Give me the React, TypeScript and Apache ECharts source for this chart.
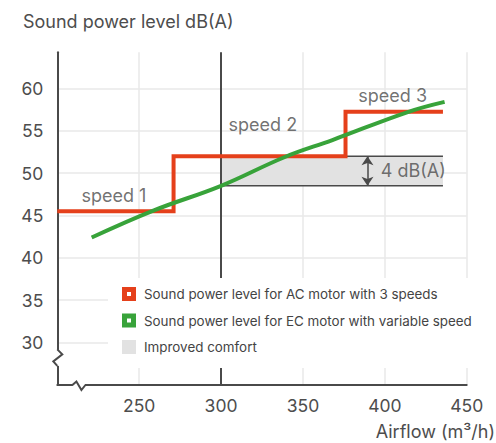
import React, { useEffect, useRef } from 'react';
import * as echarts from 'echarts';

// ---- data ----
const xTickLabels = [250, 300, 350, 400, 450];
const yTickLabels = [30, 35, 40, 45, 50, 55, 60];
const seriesNames = [
  'Sound power level for AC motor with 3 speeds',
  'Sound power level for EC motor with variable speed',
  'Improved comfort',
];
// AC motor: three fixed speeds (step line)
const acMotor = [
  [200, 45.5],
  [271, 45.5],
  [271, 52.0],
  [376, 52.0],
  [376, 57.25],
  [435.5, 57.25],
];
// EC motor: continuous speed
const ecMotor = [
  [221, 42.4],
  [259, 45.6],
  [300, 48.5],
  [339, 51.9],
  [368, 53.9],
  [414, 57.2],
  [436.5, 58.4],
];
// Improved comfort band
const comfortTop = [
  [300, 52.0],
  [435.5, 52.0],
];
const comfortBase = [
  [300, 48.5],
  [435.5, 48.5],
];
const dividerX = 300;
const gapArrow = [
  [389.4, 48.5],
  [389.4, 52.0],
];
const annotations = [
  { name: 'speed 1', value: [234.6, 47.3] },
  { name: 'speed 2', value: [325.5, 55.7] },
  { name: 'speed 3', value: [404.8, 59.2] },
  { name: '4 dB(A)', value: [397.5, 50.35] },
];
const axisBreakAt = { x: 213.2, y: 28.2 };
const xRange = [200, 450];
const yRange = [25, 64.25];

const RED = '#e5401b';
const GREEN = '#38a33a';
const BAND = '#e2e2e2';
const DARK = '#4a4a4a';
const TEXT = '#4d4d4d';
const HOLE_ICON = 'path://M0,0H14V14H0Z M5,5V9H9V5Z';

export default function App() {
  const ref = useRef<HTMLDivElement>(null);

  useEffect(() => {
    if (!ref.current) return;
    const chart = echarts.init(ref.current, undefined, { renderer: 'svg' });
    const font = 'Inter, Roboto, "Noto Sans", sans-serif';
    chart.setOption({
      animation: false,
      textStyle: { fontFamily: font },
      title: [
        {
          text: 'Sound power level dB(A)',
          left: 23,
          top: 12,
          padding: 0,
          textStyle: { fontSize: 18, fontWeight: 'normal', color: TEXT, fontFamily: font },
        },
        {
          text: 'Airflow (m³/h)',
          right: 1,
          top: 422,
          padding: 0,
          textStyle: { fontSize: 18, fontWeight: 'normal', color: TEXT, fontFamily: font },
        },
      ],
      grid: { left: 57.3, right: 29.3, top: 52.3, bottom: 58 },
      xAxis: {
        type: 'value',
        min: xRange[0],
        max: xRange[1],
        interval: 50,
        axisLine: { show: true, onZero: false, lineStyle: { color: DARK, width: 2 } },
        axisTick: { show: false },
        axisLabel: {
          fontSize: 17.5,
          color: TEXT,
          margin: 11,
          formatter: (v: number) => (xTickLabels.includes(v) ? String(v) : ''),
        },
        splitLine: { show: true, lineStyle: { color: '#e8e8e8', width: 1.5 } },
      },
      yAxis: {
        type: 'value',
        min: yRange[0],
        max: yRange[1],
        interval: 5,
        axisLine: { show: true, onZero: false, lineStyle: { color: DARK, width: 2 } },
        axisTick: { show: false },
        axisLabel: {
          fontSize: 17.5,
          color: TEXT,
          margin: 14,
          formatter: (v: number) => (yTickLabels.includes(v) ? String(v) : ''),
        },
        splitLine: { show: true, showMaxLine: false, lineStyle: { color: '#e8e8e8', width: 1.5 } },
      },
      legend: {
        orient: 'vertical',
        left: 108,
        top: 278,
        z: 20,
        padding: [9, 14, 14, 14],
        itemGap: 12.5,
        itemWidth: 14,
        itemHeight: 14,
        backgroundColor: '#ffffff',
        selectedMode: false,
        itemStyle: { borderWidth: 0 },
        textStyle: { fontSize: 13.4, color: '#444', padding: [0, 0, 0, 3], fontFamily: font },
        data: [
          { name: seriesNames[0], icon: HOLE_ICON, itemStyle: { color: RED, borderWidth: 0 } },
          { name: seriesNames[1], icon: HOLE_ICON, itemStyle: { color: GREEN, borderWidth: 0 } },
          { name: seriesNames[2], icon: 'rect', itemStyle: { color: BAND, borderWidth: 0 } },
        ],
      },
      series: [
        {
          name: seriesNames[2],
          type: 'line',
          data: comfortTop,
          symbol: 'none',
          color: BAND,
          lineStyle: { color: DARK, width: 1.5 },
          areaStyle: { color: BAND, opacity: 1, origin: comfortBase[0][1] },
          silent: true,
          z: 1,
        },
        {
          name: 'comfort-base',
          type: 'line',
          data: comfortBase,
          symbol: 'none',
          lineStyle: { color: DARK, width: 1.5 },
          silent: true,
          z: 2,
          markLine: {
            silent: true,
            z: 2,
            symbol: ['arrow', 'arrow'],
            symbolSize: [9, 9],
            label: { show: false },
            lineStyle: { color: DARK, width: 1.5, type: 'solid' },
            data: [[{ coord: gapArrow[0] }, { coord: gapArrow[1] }]],
          },
        },
        {
          name: 'divider',
          type: 'line',
          data: [],
          silent: true,
          z: 2,
          markLine: {
            silent: true,
            z: 2,
            symbol: 'none',
            label: { show: false },
            lineStyle: { color: DARK, width: 2, type: 'solid' },
            data: [{ xAxis: dividerX }],
          },
        },
        {
          name: seriesNames[0],
          type: 'line',
          data: acMotor,
          symbol: 'none',
          color: RED,
          lineStyle: { color: RED, width: 4, join: 'miter' },
          z: 3,
        },
        {
          name: seriesNames[1],
          type: 'line',
          data: ecMotor,
          symbol: 'none',
          smooth: 0.4,
          color: GREEN,
          lineStyle: { color: GREEN, width: 4 },
          z: 4,
        },
        {
          name: 'annotations',
          type: 'scatter',
          data: annotations.map((a) =>
            a.name === '4 dB(A)'
              ? { ...a, label: { align: 'left' } }
              : a
          ),
          symbolSize: 0,
          silent: true,
          z: 5,
          label: {
            show: true,
            position: 'inside',
            formatter: '{b}',
            fontSize: 18,
            color: TEXT,
            fontFamily: font,
          },
        },
      ],
    });

    const [ax, ay] = chart.convertToPixel({ gridIndex: 0 }, [xRange[0], yRange[0]]) as number[];
    const by = chart.convertToPixel({ yAxisIndex: 0 }, axisBreakAt.y) as number;
    const bx = chart.convertToPixel({ xAxisIndex: 0 }, axisBreakAt.x) as number;
    chart.setOption({
      graphic: [
        { type: 'rect', z: 100, shape: { x: ax - 2.5, y: by - 8, width: 5, height: 16 }, style: { fill: '#fff' } },
        {
          type: 'polyline',
          z: 101,
          shape: { points: [[ax, by - 8.5], [ax + 5, by - 3.5], [ax - 4, by + 3.5], [ax, by + 8]] },
          style: { stroke: DARK, lineWidth: 2, fill: null },
        },
        { type: 'rect', z: 100, shape: { x: bx - 6, y: ay - 2.5, width: 12, height: 5 }, style: { fill: '#fff' } },
        {
          type: 'polyline',
          z: 101,
          shape: { points: [[bx - 6.5, ay], [bx - 2.5, ay - 3.5], [bx + 2.5, ay + 5], [bx + 6.5, ay]] },
          style: { stroke: DARK, lineWidth: 2, fill: null },
        },
      ],
    });

    return () => chart.dispose();
  }, []);

  return (
    <div
      ref={ref}
      style={{ position: 'fixed', left: 0, top: 0, width: 496, height: 443, background: '#fff' }}
    />
  );
}
